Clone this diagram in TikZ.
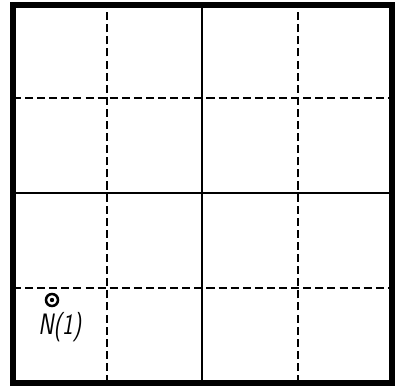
\documentclass[tikz,border=0pt]{standalone}
\usepackage{tikz}
\usetikzlibrary{positioning}

\begin{document}
\begin{tikzpicture}[
    x=0.025cm, y=0.025cm,
    frame/.style={line width=3.6pt},
    solidline/.style={line width=2pt},
    dashline/.style={line width=2pt, dash pattern=on 5.7pt off 2.9pt},
    marker/.style={circle, draw, line width=1.8pt, inner sep=0pt, minimum size=0.3cm},
    mlabel/.style={font=\fontsize{21}{23}\selectfont\sffamily\itshape, inner sep=0pt, xscale=0.78}
]
\useasboundingbox (0,0) rectangle (399,387);
% dashed quarter lines
\foreach \x in {107,298} \draw[dashline] (\x,4) -- (\x,382);
\foreach \y in {99,289} \draw[dashline] (13,\y) -- (392,\y);
% solid middle lines
\draw[solidline] (202,4) -- (202,382);
\draw[solidline] (13,194) -- (392,194);
% outer frame
\draw[frame] (13,4) rectangle (392,382);
% the point N(1)
\node[marker] (n1) at (52,87) {};
\fill (n1.center) circle (0.055cm);
\node[mlabel, below=0.12cm of n1, xshift=0.25cm] (n1lab) {N(1)};
\end{tikzpicture}
\end{document}
